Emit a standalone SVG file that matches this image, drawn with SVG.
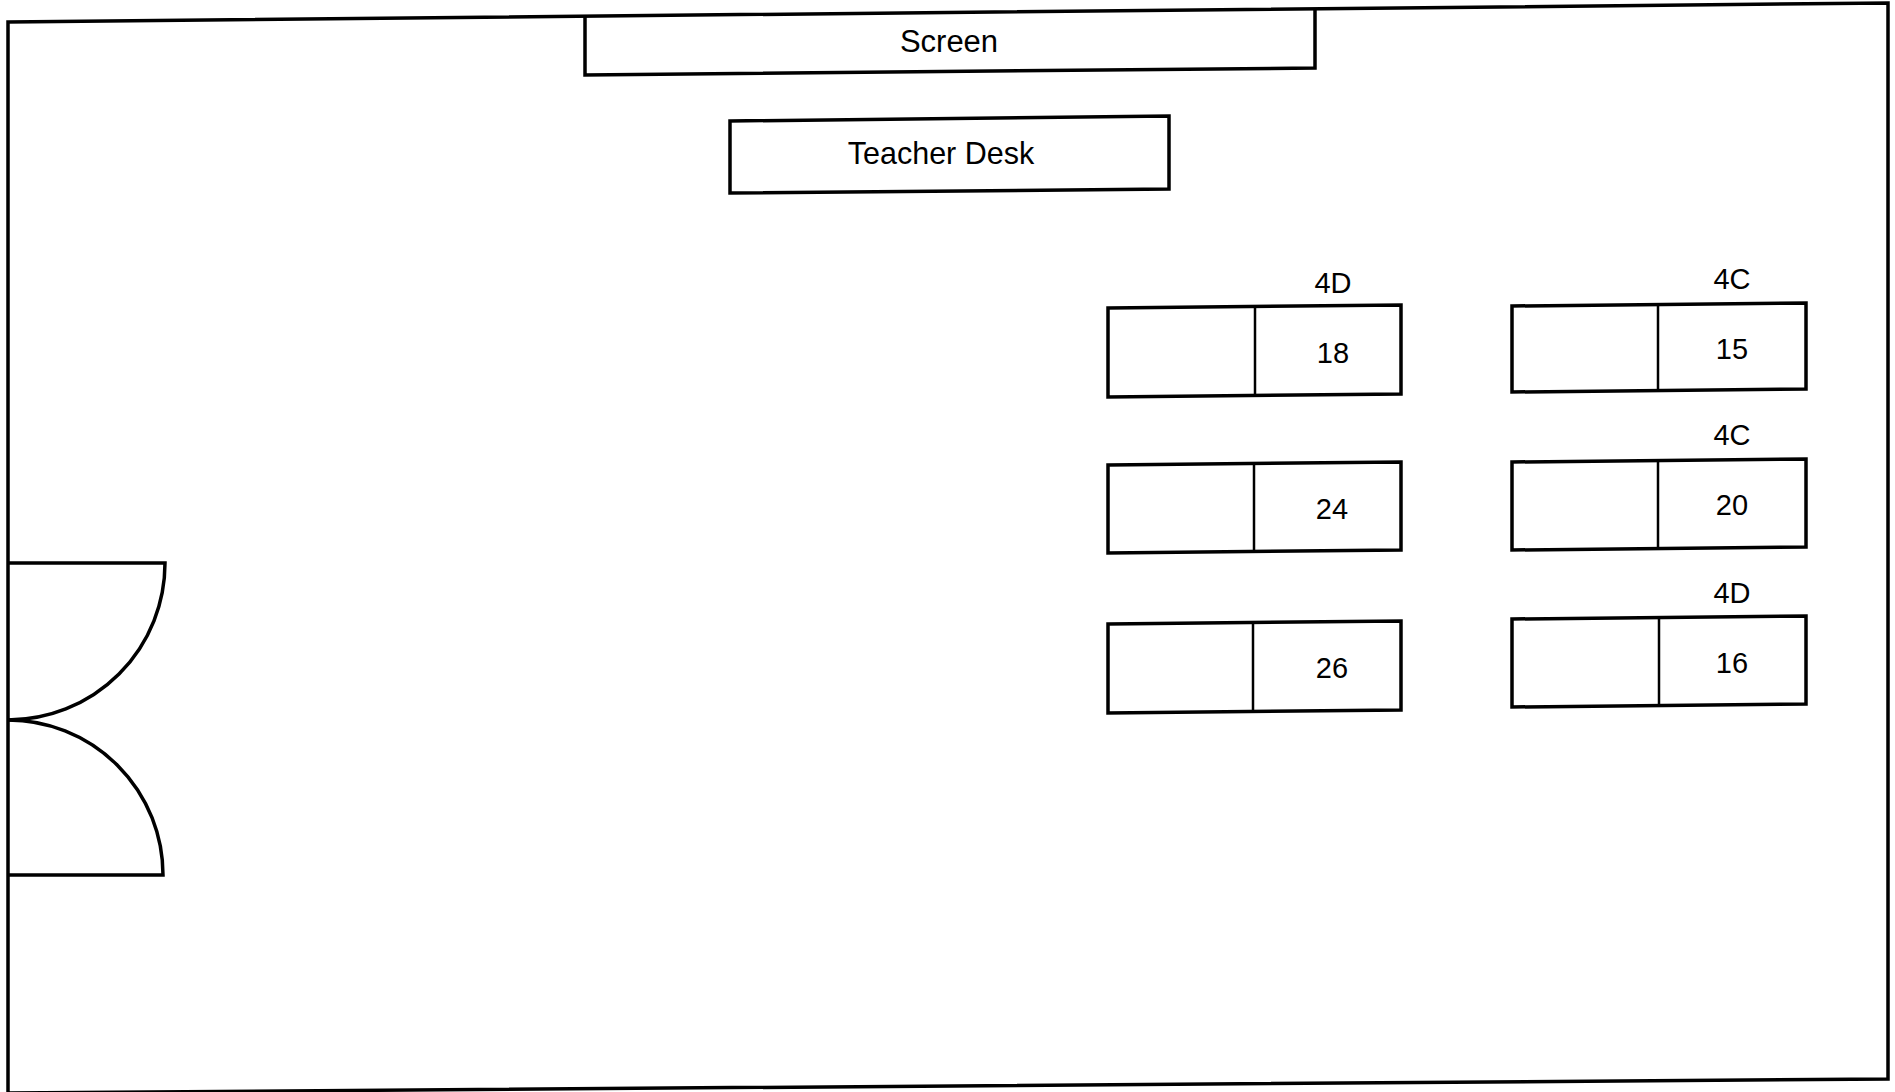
<svg xmlns="http://www.w3.org/2000/svg" width="1895" height="1092" viewBox="0 0 1895 1092">
<style>
  .ln { fill: none; stroke: #000; stroke-width: 3.5; stroke-linejoin: miter; }
  .dv { fill: none; stroke: #000; stroke-width: 2.5; }
  .desk { fill: #fff; stroke: #000; stroke-width: 3.5; }
  .t { font-family: "Liberation Sans", Arial, Helvetica, sans-serif; fill: #000; text-anchor: middle; }
  .scr { font-size: 31px; }
  .big { font-size: 30.5px; }
  .lab { font-size: 29px; }
</style>
<rect x="0" y="0" width="1895" height="1092" fill="#fff"/>
<g id="room">
  <polygon class="ln" points="8,22 1888,3 1888,1079 8,1093"/>
</g>
<g id="screen">
  <polyline class="ln" points="585,16 585,75 1315,68 1315,9"/>
  <text class="t scr" x="949" y="52">Screen</text>
</g>
<g id="teacher-desk">
  <polygon class="desk" points="730,121 1169,116 1169,189 730,193"/>
  <text class="t big" x="941" y="164">Teacher Desk</text>
</g>
<g id="desk-18">
  <polygon class="desk" points="1108,308 1401,305 1401,394 1108,397"/>
  <line class="dv" x1="1255" y1="306" x2="1255" y2="396"/>
  <text class="t lab" x="1333" y="293">4D</text>
  <text class="t lab" x="1333" y="363">18</text>
</g>
<g id="desk-24">
  <polygon class="desk" points="1108,465 1401,462 1401,550 1108,553"/>
  <line class="dv" x1="1254" y1="463" x2="1254" y2="552"/>
  <text class="t lab" x="1332" y="519">24</text>
</g>
<g id="desk-26">
  <polygon class="desk" points="1108,624 1401,621 1401,710 1108,713"/>
  <line class="dv" x1="1253" y1="622" x2="1253" y2="712"/>
  <text class="t lab" x="1332" y="678">26</text>
</g>
<g id="desk-15">
  <polygon class="desk" points="1512,306 1806,303 1806,389 1512,392"/>
  <line class="dv" x1="1658" y1="304" x2="1658" y2="391"/>
  <text class="t lab" x="1732" y="289">4C</text>
  <text class="t lab" x="1732" y="359">15</text>
</g>
<g id="desk-20">
  <polygon class="desk" points="1512,462 1806,459 1806,547 1512,550"/>
  <line class="dv" x1="1658" y1="460" x2="1658" y2="549"/>
  <text class="t lab" x="1732" y="445">4C</text>
  <text class="t lab" x="1732" y="515">20</text>
</g>
<g id="desk-16">
  <polygon class="desk" points="1512,619 1806,616 1806,704 1512,707"/>
  <line class="dv" x1="1659" y1="617" x2="1659" y2="706"/>
  <text class="t lab" x="1732" y="603">4D</text>
  <text class="t lab" x="1732" y="673">16</text>
</g>
<g id="door">
  <path class="ln" d="M8,563 L165,563 A157,157 0 0 1 8,720"/>
  <path class="ln" d="M8,720 A155,155 0 0 1 163,875 L8,875"/>
</g>
<g id="connectors"/>
</svg>
